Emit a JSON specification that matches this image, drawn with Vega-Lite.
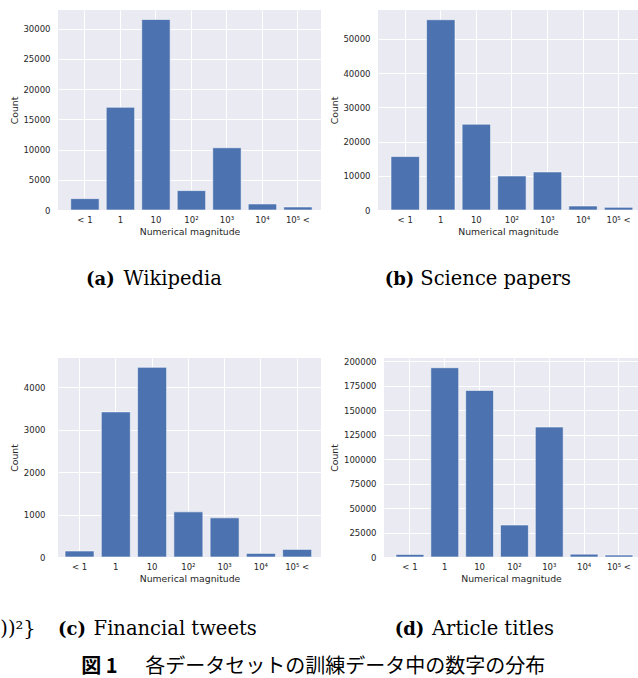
{
  "$schema": "https://vega.github.io/schema/vega-lite/v6.json",
  "background": "white",
  "padding": {"left": 0, "top": 10, "right": 0, "bottom": 0},
  "autosize": {"type": "pad"},
  "datasets": {
    "a": [{"m": "< 1", "c": 1880}, {"m": "1", "c": 17000}, {"m": "10", "c": 31530}, {"m": "10²", "c": 3210}, {"m": "10³", "c": 10300}, {"m": "10⁴", "c": 1000}, {"m": "10⁵ <", "c": 500}],
    "b": [{"m": "< 1", "c": 15600}, {"m": "1", "c": 55560}, {"m": "10", "c": 25050}, {"m": "10²", "c": 9940}, {"m": "10³", "c": 11110}, {"m": "10⁴", "c": 1170}, {"m": "10⁵ <", "c": 790}],
    "c": [{"m": "< 1", "c": 141}, {"m": "1", "c": 3420}, {"m": "10", "c": 4470}, {"m": "10²", "c": 1064}, {"m": "10³", "c": 923}, {"m": "10⁴", "c": 85}, {"m": "10⁵ <", "c": 179}],
    "d": [{"m": "< 1", "c": 2600}, {"m": "1", "c": 193560}, {"m": "10", "c": 170350}, {"m": "10²", "c": 32720}, {"m": "10³", "c": 132900}, {"m": "10⁴", "c": 2900}, {"m": "10⁵ <", "c": 2000}]
  },
  "config": {
    "view": {"fill": "#EAEAF2", "stroke": null},
    "axis": {"domain": false, "ticks": false, "tickSize": 0, "grid": true, "gridColor": "#ffffff", "gridWidth": 1, "labelFont": "DejaVu Sans", "labelFontSize": 8.5, "labelColor": "#262626", "titleFont": "DejaVu Sans", "titleFontSize": 9.3, "titleFontWeight": "normal", "titleColor": "#262626"},
    "axisX": {"labelPadding": 5, "titlePadding": 3.5, "labelAngle": 0},
    "axisY": {"labelPadding": 8},
    "title": {"color": "#000000"}
  },
  "title": {"text": "図 1", "orient": "bottom", "anchor": "start", "frame": "bounds", "dx": 81, "offset": 0, "dy": -4, "baseline": "alphabetic", "font": "Noto Sans CJK JP", "fontWeight": "bold", "fontSize": 20},
  "concat": [
    {
      "title": {"text": "各データセットの訓練データ中の数字の分布", "orient": "bottom", "anchor": "start", "frame": "bounds", "dx": 145, "offset": 34, "baseline": "alphabetic", "font": "Noto Sans CJK JP", "fontWeight": "normal", "fontSize": 20},
      "concat": [
        {
          "title": {"text": "))²}", "orient": "bottom", "anchor": "start", "frame": "bounds", "dx": -10, "offset": 0, "dy": -4, "baseline": "alphabetic", "font": "DejaVu Serif", "fontWeight": "normal", "fontSize": 19.5},
          "columns": 1,
          "align": "none",
          "spacing": 67,
          "concat": [
            {
              "columns": 2,
              "align": "none",
              "spacing": 9,
              "concat": [
                {
                  "title": {"text": "Wikipedia", "orient": "bottom", "anchor": "start", "frame": "bounds", "dx": 113.3, "offset": 0, "dy": -4, "baseline": "alphabetic", "font": "DejaVu Serif", "fontWeight": "normal", "fontSize": 19.5},
                  "concat": [
                    {
                      "data": {"name": "a"},
                      "width": 263, "height": 200,
                      "title": {"text": "(a)", "orient": "bottom", "anchor": "start", "frame": "group", "dx": 28, "offset": 49, "baseline": "alphabetic", "font": "DejaVu Serif", "fontWeight": "bold", "fontSize": 18},
                      "mark": {"type": "bar", "color": "#4C72B0", "stroke": "#ffffff", "strokeWidth": 0.8, "strokeOpacity": 0.7},
                      "encoding": {
                        "x": {"field": "m", "type": "nominal", "sort": null, "scale": {"paddingInner": 0.2, "paddingOuter": 0.304, "align": 0.59}, "axis": {"title": "Numerical magnitude", "bandPosition": 0.5, "grid": true}},
                        "y": {"field": "c", "type": "quantitative", "scale": {"domain": [0, 33100], "nice": false}, "axis": {"title": "Count", "values": [0, 5000, 10000, 15000, 20000, 25000, 30000], "format": "d", "minExtent": 34, "maxExtent": 34, "titlePadding": 4.7}}
                      }
                    }
                  ]
                },
                {
                  "title": {"text": "Science papers", "orient": "bottom", "anchor": "start", "frame": "bounds", "dx": 90, "offset": 0, "dy": -4, "baseline": "alphabetic", "font": "DejaVu Serif", "fontWeight": "normal", "fontSize": 19.5},
                  "concat": [
                    {
                      "data": {"name": "b"},
                      "width": 260, "height": 200,
                      "title": {"text": "(b)", "orient": "bottom", "anchor": "start", "frame": "group", "dx": 6.7, "offset": 49, "baseline": "alphabetic", "font": "DejaVu Serif", "fontWeight": "bold", "fontSize": 18},
                      "mark": {"type": "bar", "color": "#4C72B0", "stroke": "#ffffff", "strokeWidth": 0.8, "strokeOpacity": 0.7},
                      "encoding": {
                        "x": {"field": "m", "type": "nominal", "sort": null, "scale": {"paddingInner": 0.2, "paddingOuter": 0.256, "align": 0.714}, "axis": {"title": "Numerical magnitude", "bandPosition": 0.5, "grid": true}},
                        "y": {"field": "c", "type": "quantitative", "scale": {"domain": [0, 58400], "nice": false}, "axis": {"title": "Count", "values": [0, 10000, 20000, 30000, 40000, 50000], "format": "d", "minExtent": 34, "maxExtent": 34, "titlePadding": 4.7}}
                      }
                    }
                  ]
                }
              ]
            },
            {
              "columns": 2,
              "align": "none",
              "spacing": 9,
              "concat": [
                {
                  "title": {"text": "Financial tweets", "orient": "bottom", "anchor": "start", "frame": "bounds", "dx": 83.3, "offset": 0, "dy": -4, "baseline": "alphabetic", "font": "DejaVu Serif", "fontWeight": "normal", "fontSize": 19.5},
                  "concat": [
                    {
                      "data": {"name": "c"},
                      "width": 263, "height": 199,
                      "title": {"text": "(c)", "orient": "bottom", "anchor": "start", "frame": "group", "dx": 0, "offset": 52, "baseline": "alphabetic", "font": "DejaVu Serif", "fontWeight": "bold", "fontSize": 18},
                      "mark": {"type": "bar", "color": "#4C72B0", "stroke": "#ffffff", "strokeWidth": 0.8, "strokeOpacity": 0.7},
                      "encoding": {
                        "x": {"field": "m", "type": "nominal", "sort": null, "scale": {"paddingInner": 0.2, "paddingOuter": 0.2256, "align": 0.43}, "axis": {"title": "Numerical magnitude", "bandPosition": 0.5, "grid": true}},
                        "y": {"field": "c", "type": "quantitative", "scale": {"domain": [0, 4690], "nice": false}, "axis": {"title": "Count", "values": [0, 1000, 2000, 3000, 4000], "format": "d", "labelPadding": 13, "minExtent": 34, "maxExtent": 34, "titlePadding": 4.7}}
                      }
                    }
                  ]
                },
                {
                  "title": {"text": "Article titles", "orient": "bottom", "anchor": "start", "frame": "bounds", "dx": 101.7, "offset": 0, "dy": -4, "baseline": "alphabetic", "font": "DejaVu Serif", "fontWeight": "normal", "fontSize": 19.5},
                  "concat": [
                    {
                      "data": {"name": "d"},
                      "width": 254, "height": 199,
                      "title": {"text": "(d)", "orient": "bottom", "anchor": "start", "frame": "group", "dx": 10.7, "offset": 52, "baseline": "alphabetic", "font": "DejaVu Serif", "fontWeight": "bold", "fontSize": 18},
                      "mark": {"type": "bar", "color": "#4C72B0", "stroke": "#ffffff", "strokeWidth": 0.8, "strokeOpacity": 0.7},
                      "encoding": {
                        "x": {"field": "m", "type": "nominal", "sort": null, "scale": {"paddingInner": 0.2, "paddingOuter": 0.246, "align": 0.7}, "axis": {"title": "Numerical magnitude", "bandPosition": 0.5, "grid": true}},
                        "y": {"field": "c", "type": "quantitative", "scale": {"domain": [0, 203500], "nice": false}, "axis": {"title": "Count", "values": [0, 25000, 50000, 75000, 100000, 125000, 150000, 175000, 200000], "format": "d", "minExtent": 40, "maxExtent": 40, "titlePadding": 4.7}}
                      }
                    }
                  ]
                }
              ]
            }
          ]
        }
      ]
    }
  ]
}
